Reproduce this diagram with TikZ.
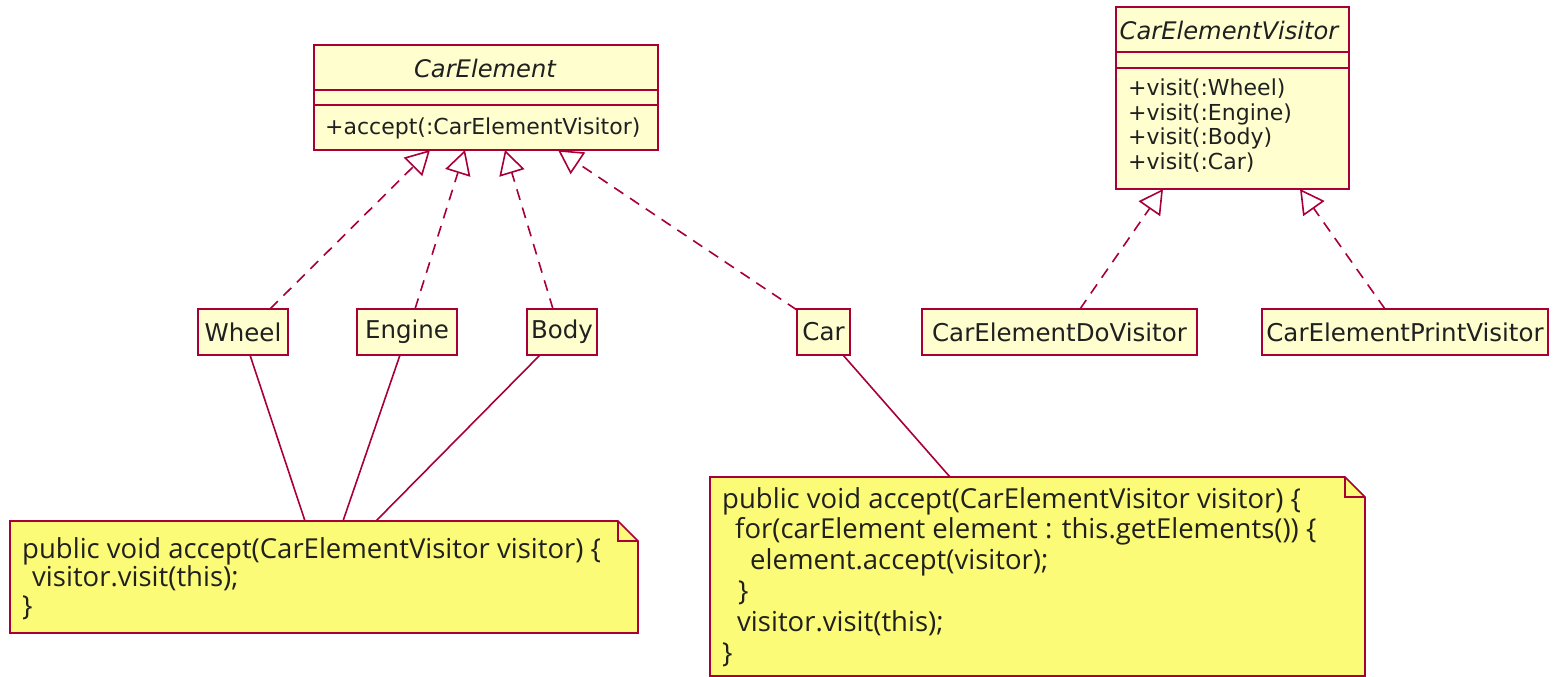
\documentclass[tikz,border=0pt]{standalone}
\usepackage{fontspec}
\setmainfont{DejaVu Sans}
\newfontfamily\notefont{Open Sans}
\usetikzlibrary{arrows.meta}
\definecolor{umlborder}{HTML}{A80036}
\definecolor{umlfill}{HTML}{FEFECE}
\definecolor{notefill}{HTML}{FBFB77}
\definecolor{umltext}{HTML}{202020}
\begin{document}
\begin{tikzpicture}[x=1pt,y=-1pt,
  clsbox/.style={draw=umlborder, fill=umlfill, line width=2.2pt, inner sep=0pt, text=umltext,
    font=\fontsize{24.5}{26}\selectfont},
  clstext/.style={inner sep=0pt, text=umltext, font=\fontsize{22}{24.5}\selectfont},
  titletext/.style={inner sep=0pt, text=umltext, font=\fontsize{24.2}{26}\selectfont\itshape},
  divider/.style={draw=umlborder, line width=2.2pt},
  notebox/.style={draw=umlborder, fill=notefill, line width=1.6pt, line join=miter},
  notetext/.style={inner sep=0pt, anchor=north west, align=left, text=umltext,
    font=\notefont\fontsize{27.5}{28.5}\selectfont},
  realize/.style={draw=umlborder, line width=1.6pt, dash pattern=on 11pt off 8pt,
    -{Triangle[open, length=24pt, width=26pt, line width=1.6pt]}},
  attach/.style={draw=umlborder, line width=1.6pt}
]
\useasboundingbox (0,0) rectangle (1555,677);

% CarElement
\node[clsbox, minimum width=344, minimum height=105, anchor=north west] (ce) at (313,44) {};
\node[titletext] (cetitle) at (485,68) {CarElement};
\draw[divider] (313,90) -- (657,90);
\draw[divider] (313,105) -- (657,105);
\node[clstext, anchor=west] (ceop) at (325,128) {+accept(:CarElementVisitor)};

% CarElementVisitor
\node[clsbox, minimum width=233, minimum height=182, anchor=north west] (cev) at (1115,6) {};
\node[titletext] (cevtitle) at (1229,30) {CarElementVisitor};
\draw[divider] (1115,52) -- (1348,52);
\draw[divider] (1115,68) -- (1348,68);
\node[clstext, anchor=north west, align=left] (cevops) at (1128,79) {+visit(:Wheel)\\+visit(:Engine)\\+visit(:Body)\\+visit(:Car)};

% concrete classes
\node[clsbox, minimum width=90, minimum height=46] (wheel) at (243,332) {Wheel};
\node[clsbox, minimum width=100, minimum height=46] (engine) at (407,332) {Engine};
\node[clsbox, minimum width=70, minimum height=46] (body) at (562,332) {Body};
\node[clsbox, minimum width=53, minimum height=46] (car) at (823.5,332) {Car};
\node[clsbox, minimum width=275, minimum height=46] (dov) at (1059.5,332) {CarElementDoVisitor};
\node[clsbox, minimum width=286, minimum height=46] (prv) at (1405,332) {CarElementPrintVisitor};

% notes
\fill[notefill] (10,521) -- (618,521) -- (638,541) -- (638,633) -- (10,633) -- cycle;
\draw[notebox] (10,521) -- (618,521) -- (638,541) -- (638,633) -- (10,633) -- cycle;
\draw[notebox, fill=none] (618,521) -- (618,541) -- (638,541);
\node[notetext] (n1) at (22,537) {public void accept(CarElementVisitor visitor) \{\\\hspace*{10pt}visitor.visit(this);\\\}};

\fill[notefill] (710,477) -- (1345,477) -- (1365,497) -- (1365,676) -- (710,676) -- cycle;
\draw[notebox] (710,477) -- (1345,477) -- (1365,497) -- (1365,676) -- (710,676) -- cycle;
\draw[notebox, fill=none] (1345,477) -- (1345,497) -- (1365,497);
\node[notetext, font=\notefont\fontsize{27.5}{30.8}\selectfont] (n2) at (722,487) {public void accept(CarElementVisitor visitor) \{\\\hspace*{13pt}for(carElement element : this.getElements()) \{\\\hspace*{28pt}element.accept(visitor);\\\hspace*{16pt}\}\\\hspace*{15pt}visitor.visit(this);\\\}};

% anchor points
\coordinate (ceA) at (430,150);
\coordinate (ceB) at (465,150);
\coordinate (ceC) at (505,150);
\coordinate (ceD) at (558,150);
\coordinate (wheelT) at (270,309);
\coordinate (engineT) at (415,309);
\coordinate (bodyT) at (553,309);
\coordinate (carT) at (797,310);
\coordinate (cevA) at (1163,189);
\coordinate (cevB) at (1300,189);
\coordinate (dovT) at (1080,309);
\coordinate (prvT) at (1385,309);

\draw[realize] (wheelT) -- (ceA);
\draw[realize] (engineT) -- (ceB);
\draw[realize] (bodyT) -- (ceC);
\draw[realize] (carT) -- (ceD);
\draw[realize] (dovT) -- (cevA);
\draw[realize] (prvT) -- (cevB);

\coordinate (wheelB) at (250,355);
\coordinate (engineB) at (400,355);
\coordinate (bodyB) at (540,355);
\coordinate (carB) at (843,355);
\coordinate (n1a) at (305,521);
\coordinate (n1b) at (343,521);
\coordinate (n1c) at (376,521);
\coordinate (n2a) at (950,477);
\draw[attach] (wheelB) -- (n1a);
\draw[attach] (engineB) -- (n1b);
\draw[attach] (bodyB) -- (n1c);
\draw[attach] (carB) -- (n2a);
\end{tikzpicture}
\end{document}
